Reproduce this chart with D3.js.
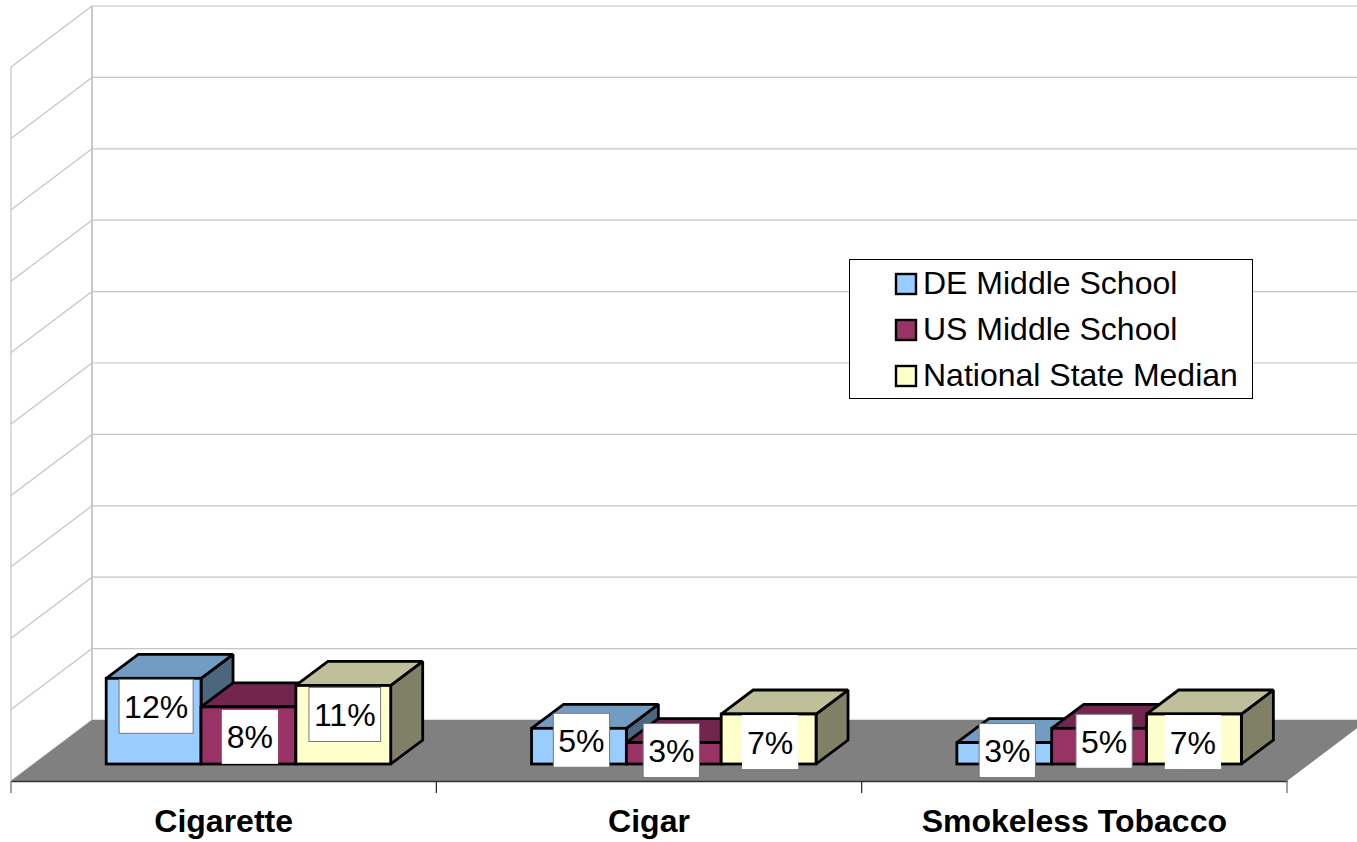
<!DOCTYPE html>
<html>
<head>
<meta charset="utf-8">
<script src="https://cdn.jsdelivr.net/npm/d3@7"></script>
<style>
  html, body { margin: 0; padding: 0; background: #fff; overflow: hidden; }
  svg { display: block; }
  text { font-family: "Liberation Sans", Arial, sans-serif; fill: #000; }
</style>
</head>
<body>
<div id="chart"></div>
<script>
// Values
const categories = ["Cigarette", "Cigar", "Smokeless Tobacco"];
const seriesNames = ["DE Middle School", "US Middle School", "National State Median"];
const deMiddle = [12, 5, 3];
const usMiddle = [8, 3, 5];
const nationalMedian = [11, 7, 7];
const seriesValues = [deMiddle, usMiddle, nationalMedian];

// Colours per series: front, top, side
const fronts = ["#99ccff", "#993366", "#ffffcc"];
const tops = ["#739cc2", "#73264d", "#bfbf99"];
const sides = ["#4d6680", "#4d1a33", "#808066"];

// Labels were dragged by hand in the original: [dx, dy, grey edge] per category, per series
const labelNudge = [
    [[2.5, 28, true], [1.5, 30, false], [1.5, 29, true]],
    [[2.5, 12, true], [-2.5, 8, true], [1.5, 28, false]],
    [[3, 8, true], [5, 13, true], [-1, 28, false]]
];

const width = 1357, height = 842;
const wallDepth = { x: 81, y: -61 };
const barDepth = { x: 32, y: -24 };
const floorY = 781, floorLeft = 11, floorRight = 1287;

const svg = d3.select("#chart").append("svg")
    .attr("width", width)
    .attr("height", height);

// Scales
const y = d3.scaleLinear().domain([0, 100]).range([floorY + wallDepth.y, 6]);
const x0 = d3.scaleBand().domain(categories).range([floorLeft, floorRight]);
const x1 = d3.scaleBand().domain(seriesNames).range([95.2, 379.7]);
const barBase = floorY - 17;

// Side wall and back wall grid
const grid = svg.append("g").attr("fill", "none").attr("stroke", "#c4c4c4").attr("stroke-width", 1.2);
y.ticks(10).forEach(t => {
    grid.append("line")
        .attr("x1", floorLeft).attr("y1", y(t) - wallDepth.y)
        .attr("x2", floorLeft + wallDepth.x).attr("y2", y(t));
    grid.append("line")
        .attr("x1", floorLeft + wallDepth.x).attr("y1", y(t))
        .attr("x2", width).attr("y2", y(t));
});
grid.append("line")
    .attr("x1", floorLeft).attr("y1", y(100) - wallDepth.y)
    .attr("x2", floorLeft).attr("y2", floorY);
grid.append("line")
    .attr("x1", floorLeft + wallDepth.x).attr("y1", y(100))
    .attr("x2", floorLeft + wallDepth.x).attr("y2", y(0))
    .attr("stroke-width", 1.8);

// Floor
svg.append("polygon")
    .attr("points", [
        [floorLeft, floorY],
        [floorLeft + wallDepth.x, floorY + wallDepth.y],
        [floorRight + wallDepth.x, floorY + wallDepth.y],
        [floorRight, floorY]
    ].map(p => p.join(",")).join(" "))
    .attr("fill", "#808080");

// Category axis, ticks sit between the bands
const axis = svg.append("g")
    .attr("transform", `translate(0,${floorY})`)
    .call(d3.axisBottom(x0).tickSize(0).tickPadding(28));
axis.select(".domain").attr("stroke", "#333").attr("stroke-width", 1.5);
axis.selectAll("text")
    .attr("font-family", "Liberation Sans")
    .attr("font-size", 32)
    .attr("font-weight", "bold")
    .attr("fill", "#000");
categories.concat(null).forEach((c, i) => {
    const tx = c ? x0(c) : floorRight;
    axis.append("line")
        .attr("x1", tx).attr("x2", tx)
        .attr("y1", 0).attr("y2", 12)
        .attr("stroke", i === 0 || !c ? "#666" : "#222")
        .attr("stroke-width", 1.2);
});

// Bars, back to front within each category
const bars = svg.append("g")
    .attr("stroke", "#000")
    .attr("stroke-width", 2.8)
    .attr("stroke-linejoin", "miter")
    .attr("stroke-miterlimit", 1.5);
categories.forEach((cat, c) => {
    seriesNames.forEach((name, s) => {
        const left = x0(cat) + x1(name);
        const right = left + x1.bandwidth();
        const h = y(0) - y(seriesValues[s][c]);
        const top = barBase - h;
        const dx = barDepth.x, dy = barDepth.y;

        bars.append("polygon")
            .attr("points", `${right},${top} ${right + dx},${top + dy} ${right + dx},${barBase + dy} ${right},${barBase}`)
            .attr("fill", sides[s]);
        bars.append("polygon")
            .attr("points", `${left},${top} ${left + dx},${top + dy} ${right + dx},${top + dy} ${right},${top}`)
            .attr("fill", tops[s]);
        bars.append("rect")
            .attr("x", left).attr("y", top)
            .attr("width", right - left).attr("height", h)
            .attr("fill", fronts[s]);
    });
});

// Data labels on white boxes
const labels = svg.append("g");
categories.forEach((cat, c) => {
    seriesNames.forEach((name, s) => {
        const v = seriesValues[s][c];
        const [nx, ny, edge] = labelNudge[c][s];
        const cx = x0(cat) + x1(name) + x1.bandwidth() / 2 + nx;
        const cy = barBase - (y(0) - y(v)) + ny;
        const box = labels.append("rect").attr("fill", "#fff");
        const txt = labels.append("text")
            .attr("x", cx).attr("y", cy + 11.5)
            .attr("text-anchor", "middle")
            .attr("font-size", 32)
            .text(v + "%");
        const w = txt.node().getComputedTextLength() + 10;
        box.attr("x", cx - w / 2).attr("y", cy - 27)
            .attr("width", w).attr("height", 54)
            .attr("stroke", edge ? "#777" : "none")
            .attr("stroke-width", 1);
    });
});

// Legend
const legend = svg.append("g").attr("transform", "translate(849,259)");
legend.append("rect")
    .attr("x", 0.5).attr("y", 0.5)
    .attr("width", 403).attr("height", 139)
    .attr("fill", "#fff")
    .attr("stroke", "#000")
    .attr("stroke-width", 1);
seriesNames.forEach((name, i) => {
    const row = legend.append("g").attr("transform", `translate(0,${i * 46})`);
    row.append("rect")
        .attr("x", 47).attr("y", 15)
        .attr("width", 20).attr("height", 20)
        .attr("fill", fronts[i])
        .attr("stroke", "#000")
        .attr("stroke-width", 2.4);
    row.append("text")
        .attr("x", 74).attr("y", 35)
        .attr("font-size", 32)
        .text(name);
});
</script>
</body>
</html>
